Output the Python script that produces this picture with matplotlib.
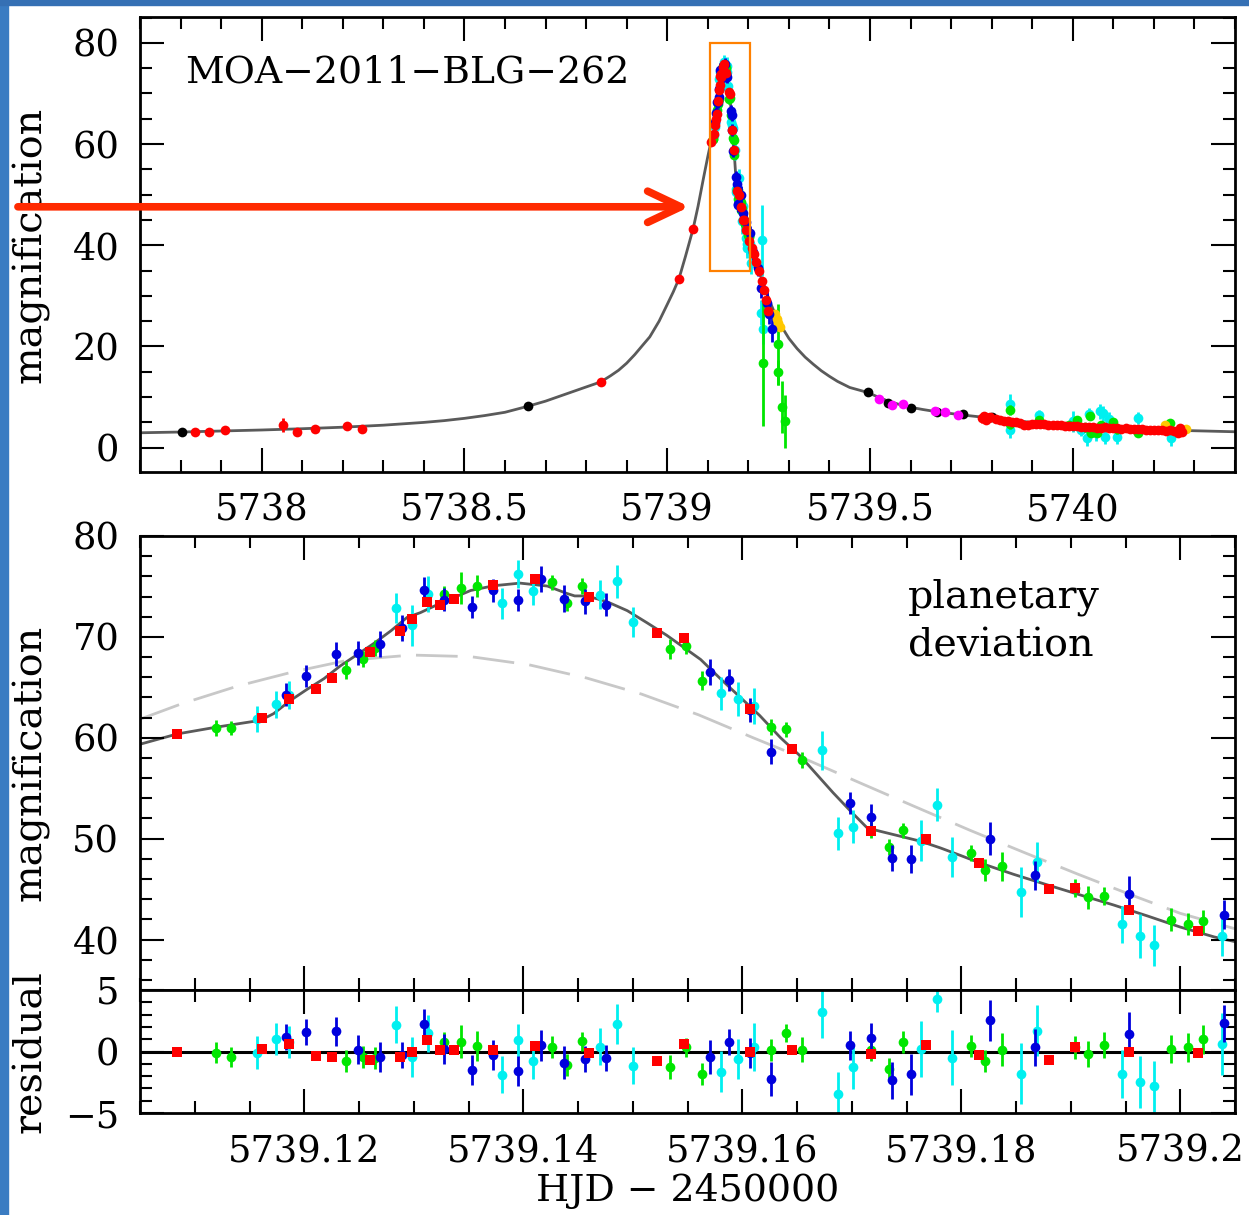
import matplotlib
matplotlib.use('Agg')
import matplotlib.pyplot as plt
from matplotlib.patches import Rectangle
from matplotlib.ticker import MultipleLocator, FuncFormatter

plt.rcParams['font.family'] = 'DejaVu Serif'
plt.rcParams['font.size'] = 26

W, H = 1249, 1215

# ---------------- model curves ----------------
# planetary model, zoomed window
model_t = [5739.1050, 5739.1084, 5739.1119, 5739.1160, 5739.1172, 5739.1187, 5739.1202,
           5739.1218, 5739.1233, 5739.1248, 5739.1263, 5739.1279, 5739.1294, 5739.1306,
           5739.1324, 5739.1352, 5739.1373, 5739.1397, 5739.1422, 5739.1440, 5739.1447,
           5739.1458, 5739.1476, 5739.1495, 5739.1513, 5739.1531, 5739.1549, 5739.1562,
           5739.1580, 5739.1598, 5739.1616, 5739.1635, 5739.1653, 5739.1668, 5739.1683,
           5739.1699, 5739.1714, 5739.1726, 5739.1744, 5739.1763, 5739.1781, 5739.1799,
           5739.1817, 5739.1848, 5739.1878, 5739.1909, 5739.1939, 5739.1970, 5739.2000,
           5739.2031, 5739.2050]
model_a = [59.36, 60.38, 61.04, 61.73, 62.39, 63.67, 64.76,
           65.86, 67.13, 68.22, 69.31, 70.59, 71.94, 72.4,
           73.32, 74.6, 75.07, 75.33, 75.04, 74.3, 74.06,
           74.06, 73.51, 72.6, 71.4, 70.16, 68.77, 67.76,
           65.86, 64.03, 62.2, 60.0, 58.19, 56.37, 54.55,
           52.72, 51.08, 50.73, 50.25, 49.74, 49.08, 48.35,
           47.6, 46.46, 45.44, 44.41, 43.43, 42.34, 41.24,
           40.26, 39.79]

# no-planet model (dashed)
single_t = [5739.1050, 5739.1088, 5739.1139, 5739.1189, 5739.1239, 5739.1298, 5739.1352,
            5739.1405, 5739.1458, 5739.1508, 5739.1560, 5739.1610, 5739.1659, 5739.1709,
            5739.1758, 5739.1808, 5739.1857, 5739.1907, 5739.1957, 5739.2000, 5739.2050]
single_a = [61.84, 63.37, 65.12, 66.51, 67.67, 68.2, 68.04,
            67.24, 65.92, 64.33, 62.28, 60.0, 57.83, 55.46,
            53.16, 50.83, 48.65, 46.46, 44.35, 42.6, 41.07]

# full light curve, outside the zoom window
early_t = [5737.70, 5737.80, 5737.90, 5738.00, 5738.10, 5738.20, 5738.30, 5738.40,
           5738.45, 5738.50, 5738.55, 5738.60, 5738.657, 5738.70, 5738.75, 5738.80,
           5738.836, 5738.86, 5738.88, 5738.90, 5738.92, 5738.94, 5738.957, 5738.98,
           5739.00, 5739.015, 5739.029, 5739.045, 5739.064, 5739.076, 5739.09, 5739.10]
early_a = [2.95, 3.1, 3.3, 3.5, 3.75, 4.05, 4.45, 5.0,
           5.35, 5.8, 6.35, 7.0, 8.2, 9.2, 10.6, 12.0,
           13.0, 14.2, 15.3, 16.7, 18.4, 20.3, 21.9, 25.0,
           28.3, 30.8, 33.4, 37.8, 43.3, 47.7, 53.5, 57.5]
late_t = [5739.215, 5739.225, 5739.235, 5739.245, 5739.255, 5739.265, 5739.28, 5739.30,
          5739.32, 5739.34, 5739.36, 5739.38, 5739.40, 5739.42, 5739.45, 5739.495,
          5739.52, 5739.545, 5739.57, 5739.60, 5739.63, 5739.665, 5739.70, 5739.73,
          5739.77, 5739.80, 5739.85, 5739.90, 5739.95, 5740.00, 5740.05, 5740.10,
          5740.15, 5740.20, 5740.25, 5740.30, 5740.35, 5740.40]
late_a = [37.5, 35.2, 32.9, 30.6, 28.5, 26.6, 24.2, 21.6,
          19.6, 17.9, 16.5, 15.2, 14.1, 13.1, 11.9, 10.9,
          10.0, 9.2, 8.6, 8.0, 7.55, 7.1, 6.75, 6.45,
          6.1, 5.85, 5.4, 5.0, 4.7, 4.45, 4.2, 4.0,
          3.8, 3.6, 3.45, 3.35, 3.25, 3.15]

# ---------------- data in the zoom window ----------------
red_t = [5739.1084, 5739.1161, 5739.1186, 5739.1211, 5739.1225, 5739.1260, 5739.1287,
         5739.1298, 5739.1312, 5739.1324, 5739.1337, 5739.1372, 5739.1411, 5739.1460,
         5739.1522, 5739.1547, 5739.1607, 5739.1645, 5739.1718, 5739.1768, 5739.1816,
         5739.1880, 5739.1904, 5739.1953, 5739.2016]
red_a = [60.38, 61.95, 63.85, 64.87, 65.92, 68.5, 70.59,
         71.75, 73.43, 73.21, 73.8, 75.15, 75.77, 73.95,
         70.34, 69.86, 62.86, 58.85, 50.73, 49.92, 47.55,
         45.0, 45.07, 42.96, 40.81]
red_r = [0.0, 0.2, 0.65, -0.39, -0.48, -0.69, -0.45,
         0.0, 0.9, 0.1, 0.1, 0.15, 0.45, -0.11,
         -0.8, 0.65, -0.03, 0.15, -0.2, 0.53, -0.3,
         -0.66, 0.33, -0.03, -0.11]

green_t = [5739.1119, 5739.1133, 5739.1238, 5739.1254, 5739.1265, 5739.1328, 5739.1343,
           5739.1358, 5739.1426, 5739.1440, 5739.1454, 5739.1534, 5739.1549, 5739.1563,
           5739.1626, 5739.1640, 5739.1655, 5739.1718, 5739.1734, 5739.1747, 5739.1809,
           5739.1822, 5739.1837, 5739.1904, 5739.1916, 5739.1930, 5739.1992, 5739.2007,
           5739.2021]
green_a = [61.0, 60.93, 66.69, 67.85, 68.88, 74.3, 74.85,
           75.04, 75.4, 73.32, 75.04, 68.84, 69.06, 65.67,
           61.11, 60.85, 57.83, 50.9, 49.16, 50.83, 48.54,
           46.9, 47.26, 45.07, 44.17, 44.35, 41.98, 41.54,
           41.8]
green_e = [0.8, 0.7, 0.9, 0.8, 0.8, 0.7, 1.6,
           1.1, 0.75, 0.75, 0.75, 1.0, 0.75, 0.9,
           0.8, 0.75, 0.8, 0.8, 0.8, 0.75, 0.8,
           1.1, 1.45, 0.9, 1.1, 0.9, 1.1, 1.1,
           1.15]
green_r = [-0.11, -0.45, -0.75, -0.45, -0.5, 0.8, 0.8,
           0.45, 0.4, -1.1, 0.83, -1.26, 0.33, -1.8,
           0.15, 1.49, 0.15, 0.1, -1.4, 0.74, 0.45,
           -0.75, 0.15, 0.33, -0.21, 0.5, 0.2, 0.33,
           0.98]
green_re = [0.85, 0.8, 0.9, 0.9, 0.9, 0.8, 1.34,
            1.2, 0.9, 0.9, 0.75, 1.0, 0.75, 0.9,
            0.9, 0.75, 1.0, 0.9, 0.85, 0.9, 0.9,
            0.9, 1.35, 0.9, 1.05, 1.05, 1.15, 1.15,
            1.2]

cyan_t = [5739.1157, 5739.1174, 5739.1186, 5739.1284, 5739.1298, 5739.1313, 5739.1381,
          5739.1395, 5739.1409, 5739.1470, 5739.1486, 5739.1500, 5739.1581, 5739.1596,
          5739.1611, 5739.1673, 5739.1687, 5739.1701, 5739.1763, 5739.1778, 5739.1792,
          5739.1855, 5739.1869, 5739.1947, 5739.1963, 5739.1976, 5739.2038, 5739.2056]
cyan_a = [61.84, 63.3, 64.2, 72.88, 71.13, 74.23, 73.32,
          76.24, 74.52, 74.17, 75.5, 71.5, 64.4, 63.85,
          63.12, 58.74, 50.54, 51.2, 49.81, 53.38, 48.17,
          44.71, 47.7, 41.5, 40.34, 39.42, 40.34, 36.4]
cyan_e = [1.28, 1.3, 1.38, 1.5, 2.0, 1.8, 1.5,
          1.4, 1.4, 1.45, 1.65, 1.5, 1.65, 1.65,
          1.8, 1.9, 1.65, 1.65, 2.0, 1.65, 2.0,
          2.5, 2.0, 1.8, 2.2, 2.0, 2.0, 2.0]
cyan_r = [-0.1, 0.98, 0.8, 2.17, -0.45, 1.49, -1.88,
          0.9, -0.75, 0.4, 2.24, -1.14, -1.64, -0.6,
          0.33, 3.19, -3.43, -1.28, 0.2, 4.26, -0.5,
          -1.8, 1.7, -1.8, -2.48, -2.84, 0.6, -3.3]
cyan_re = [1.34, 1.3, 1.3, 1.5, 1.65, 1.5, 1.5,
           1.34, 1.5, 1.5, 1.65, 1.5, 1.65, 1.65,
           1.95, 2.1, 1.8, 1.8, 2.25, 1.05, 2.25,
           2.5, 2.1, 1.95, 2.1, 2.1, 2.5, 2.0]

blue_t = [5739.1183, 5739.1202, 5739.1229, 5739.1249, 5739.1269, 5739.1289, 5739.1309,
          5739.1328, 5739.1353, 5739.1372, 5739.1395, 5739.1416, 5739.1437, 5739.1456,
          5739.1476, 5739.1571, 5739.1588, 5739.1607, 5739.1626, 5739.1698, 5739.1718,
          5739.1737, 5739.1754, 5739.1826, 5739.1867, 5739.1953, 5739.2040]
blue_a = [64.28, 66.14, 68.29, 68.4, 69.31, 70.88, 74.67,
          73.7, 72.96, 74.6, 73.69, 75.77, 73.8, 73.51,
          73.21, 66.51, 65.75, 62.75, 58.63, 53.53, 52.18,
          48.06, 47.99, 49.99, 46.35, 44.52, 42.45]
blue_e = [1.1, 1.1, 1.2, 1.2, 1.3, 1.3, 1.3,
          1.1, 1.1, 1.1, 1.1, 1.3, 1.3, 1.2,
          1.1, 1.3, 1.1, 1.2, 1.2, 1.1, 1.3,
          1.3, 1.4, 1.65, 1.45, 1.8, 1.45]
blue_r = [1.19, 1.58, 1.64, 0.15, -0.45, -0.3, 2.24,
          0.2, -1.5, -0.3, -1.58, 0.5, -0.9, -0.6,
          -0.5, -0.45, 0.76, -0.11, -2.24, 0.5, 1.1,
          -2.33, -1.85, 2.53, 0.33, 1.4, 2.3]
blue_re = [1.05, 1.05, 1.2, 1.2, 1.2, 1.05, 1.2,
           1.2, 1.2, 1.2, 1.2, 1.25, 1.35, 1.05,
           1.05, 1.35, 1.05, 1.2, 1.35, 1.2, 1.2,
           1.5, 1.65, 1.65, 1.5, 1.8, 1.5]

# ---------------- data only visible in the full light curve ----------------
red2_t = [5737.835, 5737.869, 5737.909, 5738.053, 5738.086, 5738.132, 5738.211, 5738.247,
          5738.836, 5739.029, 5739.064,
          5739.208, 5739.214, 5739.220, 5739.226, 5739.233, 5739.238, 5739.243, 5739.249,
          5739.775, 5739.780, 5739.785, 5739.790, 5739.795, 5739.81, 5739.82, 5739.83,
          5739.84, 5739.85, 5739.86, 5739.87, 5739.88, 5739.89, 5739.90, 5739.91,
          5739.92, 5739.93, 5739.94, 5739.95, 5739.96, 5739.97, 5739.98, 5739.99,
          5740.00, 5740.01, 5740.02, 5740.03, 5740.04, 5740.05, 5740.06, 5740.07,
          5740.08, 5740.09, 5740.10, 5740.11, 5740.12, 5740.13, 5740.14, 5740.15,
          5740.16, 5740.17, 5740.18, 5740.19, 5740.20, 5740.21, 5740.22, 5740.23,
          5740.24, 5740.25, 5740.26, 5740.265, 5740.27]
red2_a = [3.2, 3.2, 3.4, 4.55, 3.2, 3.76, 4.2, 3.7,
          12.9, 33.4, 43.3,
          39.5, 38.2, 36.6, 35.0, 33.0, 31.2, 29.2, 27.0,
          5.8, 6.2, 5.5, 5.9, 6.0, 5.6, 5.4, 5.3,
          5.2, 5.0, 5.0, 4.8, 4.5, 4.4, 4.6, 4.7,
          4.6, 4.6, 4.5, 4.4, 4.5, 4.4, 4.3, 4.3,
          4.2, 4.2, 4.1, 4.1, 4.0, 4.0, 3.9, 3.9,
          4.0, 3.9, 3.8, 3.8, 3.7, 3.8, 3.7, 3.6,
          3.6, 3.6, 3.5, 3.5, 3.4, 3.5, 3.4, 3.3,
          3.4, 3.3, 2.9, 3.8, 3.2]
red2_e = [0.3] * 3 + [1.4] + [0.3] * 3 + [0.8] + [0.3] * 11 + [0.9] * 5 + [0.3] * 48

black_t = [5737.804, 5738.657, 5739.495, 5739.545, 5739.600, 5739.665, 5739.730, 5739.802]
black_a = [3.1, 8.2, 10.96, 8.85, 7.85, 7.1, 6.7, 6.0]

magenta_t = [5739.522, 5739.554, 5739.581, 5739.660, 5739.684, 5739.717]
magenta_a = [9.6, 8.4, 8.7, 7.2, 7.0, 6.5]

yellow_t = [5739.266, 5739.270, 5739.274, 5739.277, 5740.227, 5740.28]
yellow_a = [26.5, 25.5, 24.6, 23.8, 4.5, 3.6]

blue2_t = [5739.212, 5739.225, 5739.232, 5739.245, 5739.250, 5739.258]
blue2_a = [38.6, 35.5, 31.5, 28.5, 26.5, 23.4]
blue2_e = [1.5, 1.5, 2.0, 2.5, 2.0, 2.5]

cyan2_t = [5739.234, 5739.232, 5739.236, 5739.845, 5739.845, 5739.916, 5740.00, 5740.02,
           5740.034, 5740.04, 5740.058, 5740.067, 5740.075, 5740.08, 5740.09, 5740.108,
           5740.161, 5740.243]
cyan2_a = [41.0, 26.7, 23.4, 8.6, 3.5, 6.5, 5.2, 3.5,
           1.9, 6.6, 2.9, 7.2, 6.8, 2.2, 5.6, 2.2,
           5.9, 1.9]
cyan2_e = [7.0, 2.5, 3.0, 2.0, 1.5, 1.0, 2.0, 1.2,
           1.5, 1.2, 1.5, 1.5, 1.5, 1.5, 1.5, 1.5,
           1.2, 1.5]

green2_t = [5739.236, 5739.273, 5739.273, 5739.282, 5739.290, 5739.845, 5739.845, 5739.916,
            5739.99, 5740.01, 5740.03, 5740.042, 5740.045, 5740.06, 5740.07, 5740.10,
            5740.11, 5740.16, 5740.24]
green2_a = [16.8, 20.4, 14.9, 8.0, 5.2, 7.4, 4.6, 5.5,
            4.55, 5.5, 4.0, 6.2, 3.0, 3.0, 4.5, 5.0,
            3.6, 3.0, 4.9]
green2_e = [12.5, 8.0, 2.5, 5.1, 5.2, 1.0, 1.0, 0.8,
            0.8, 0.8, 0.8, 0.8, 0.8, 0.8, 0.8, 0.8,
            0.8, 0.8, 0.8]

C_RED, C_GREEN, C_CYAN, C_BLUE = '#ff0000', '#00e600', '#00f0f0', '#0000dd'
C_MAG, C_YEL = '#ff00ff', '#ffc800'


def pts(ax, t, y, e, color, z, marker='o', ms=7):
    ax.errorbar(t, y, yerr=e, fmt=marker, color=color, ms=ms, mew=0,
                elinewidth=2, capsize=4.2, capthick=2, zorder=z)


def style(ax, xmaj, xmin, ymaj, ymin):
    ax.xaxis.set_major_locator(MultipleLocator(xmaj))
    ax.xaxis.set_minor_locator(MultipleLocator(xmin))
    ax.yaxis.set_major_locator(MultipleLocator(ymaj))
    ax.yaxis.set_minor_locator(MultipleLocator(ymin))
    ax.tick_params(which='both', direction='in', top=True, right=True, width=1.5,
                   labelsize=26.5)
    ax.tick_params(which='major', length=17)
    ax.tick_params(which='minor', length=8.5)
    ax.tick_params(axis='x', pad=15)
    ax.tick_params(axis='y', pad=15)
    for s in ax.spines.values():
        s.set_linewidth(2)


fmt = FuncFormatter(lambda v, p: '%g' % round(v, 3))

fig = plt.figure(figsize=(W / 100, H / 100), dpi=100)
ax1 = fig.add_axes([140 / W, 1 - 472 / H, 1095 / W, 455 / H])
ax2 = fig.add_axes([140 / W, 1 - 990 / H, 1095 / W, 454 / H])
ax3 = fig.add_axes([140 / W, 1 - 1113 / H, 1095 / W, 123 / H])

# slide border
fig.add_artist(Rectangle((0, 0), 8 / W, 1, transform=fig.transFigure, color='#3a7cc2', zorder=0))
fig.add_artist(Rectangle((0, 1 - 5 / H), 1, 5 / H, transform=fig.transFigure, color='#3570b4', zorder=0))

# ---- top: full light curve ----
ax1.plot(early_t + model_t + late_t, early_a + model_a + late_a, color='#5a5a5a', lw=2, zorder=1)
pts(ax1, cyan_t, cyan_a, cyan_e, C_CYAN, 2)
pts(ax1, cyan2_t, cyan2_a, cyan2_e, C_CYAN, 2)
pts(ax1, green_t, green_a, green_e, C_GREEN, 3)
pts(ax1, green2_t, green2_a, green2_e, C_GREEN, 3)
pts(ax1, blue_t, blue_a, blue_e, C_BLUE, 4)
pts(ax1, blue2_t, blue2_a, blue2_e, C_BLUE, 4)
ax1.plot(black_t, black_a, 'o', color='black', ms=7, mew=0, zorder=4)
ax1.plot(magenta_t, magenta_a, 'o', color=C_MAG, ms=7, mew=0, zorder=4)
ax1.plot(yellow_t, yellow_a, 'o', color=C_YEL, ms=7, mew=0, zorder=4)
pts(ax1, red2_t, red2_a, red2_e, C_RED, 5)
pts(ax1, red_t, red_a, [0.35] * len(red_t), C_RED, 5)
ax1.add_patch(Rectangle((5739.105, 35), 0.1, 45, fill=False, ec='#ff8000', lw=1.6, zorder=6))
ann = ax1.annotate('', xy=(5739.055, 47.6), xytext=(5737.399, 47.6),
                   arrowprops=dict(arrowstyle='->,head_length=0.95,head_width=0.45',
                                   color='#ff2a00', lw=5.5, mutation_scale=25,
                                   shrinkA=0, shrinkB=0),
                   annotation_clip=False, zorder=7)
ann.arrow_patch.set_clip_on(False)
ax1.text(0.041, 0.877, 'MOA\u22122011\u2212BLG\u2212262', transform=ax1.transAxes,
         fontsize=27.3, ha='left', va='center')
ax1.set_xlim(5737.70, 5740.40)
ax1.set_ylim(-4.8, 85.1)
style(ax1, 0.5, 0.1, 20, 5)
ax1.xaxis.set_major_formatter(fmt)
ax1.set_ylabel('magnification', fontsize=28.5)
ax1.yaxis.set_label_coords(-0.083, 0.5)

# ---- middle: zoom on the planetary deviation ----
ax2.plot(single_t, single_a, color='#c8c8c8', lw=2, dashes=(15, 5.5), zorder=1)
ax2.plot(model_t, model_a, color='#5a5a5a', lw=2, zorder=1)
pts(ax2, cyan_t, cyan_a, cyan_e, C_CYAN, 2)
pts(ax2, green_t, green_a, green_e, C_GREEN, 3)
pts(ax2, blue_t, blue_a, blue_e, C_BLUE, 4)
pts(ax2, red_t, red_a, [0.4] * len(red_t), C_RED, 5, marker='s', ms=6.5)
ax2.text(0.701, 0.866, 'planetary', transform=ax2.transAxes, fontsize=28.5, ha='left', va='center')
ax2.text(0.701, 0.758, 'deviation', transform=ax2.transAxes, fontsize=28.5, ha='left', va='center')
ax2.set_xlim(5739.105, 5739.205)
ax2.set_ylim(35, 80)
style(ax2, 0.02, 0.005, 10, 2)
ax2.tick_params(axis='x', labelbottom=False)
ax2.set_ylabel('magnification', fontsize=28.5)
ax2.yaxis.set_label_coords(-0.083, 0.5)

# ---- bottom: residuals ----
ax3.axhline(0, color='black', lw=2.2, zorder=1)
pts(ax3, cyan_t, cyan_r, cyan_re, C_CYAN, 2)
pts(ax3, green_t, green_r, green_re, C_GREEN, 3)
pts(ax3, blue_t, blue_r, blue_re, C_BLUE, 4)
pts(ax3, red_t, red_r, [0.33] * len(red_t), C_RED, 5, marker='s', ms=6.5)
ax3.set_xlim(5739.105, 5739.205)
ax3.set_ylim(-5, 5)
style(ax3, 0.02, 0.005, 5, 1)
ax3.xaxis.set_major_formatter(fmt)
ax3.set_ylabel('residual', fontsize=28.5)
ax3.yaxis.set_label_coords(-0.083, 0.5)
ax3.set_xlabel('HJD \u2212 2450000', fontsize=27.3, labelpad=2)

fig.savefig('out.png', dpi=100)
